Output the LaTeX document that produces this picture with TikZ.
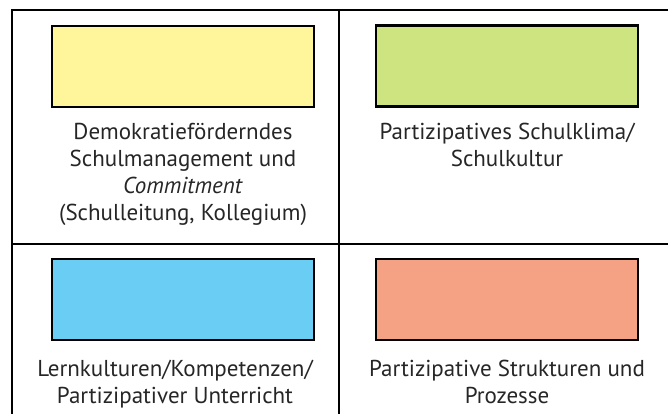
\documentclass[tikz,border=0pt]{standalone}
\usepackage{fontspec}
\setmainfont{PT Sans}
\begin{document}
\begin{tikzpicture}[x=1pt,y=-1pt,
  gridline/.style={line width=1.8pt,black},
  colorbox/.style={draw=black,line width=2.2pt,minimum width=262pt,minimum height=81pt,inner sep=0pt},
  caption/.style={align=center,anchor=base,inner sep=0pt,font=\fontsize{23}{26.7}\selectfont,text=black!85}
]
\definecolor{boxyellow}{RGB}{255,245,155}
\definecolor{boxgreen}{RGB}{205,228,128}
\definecolor{boxblue}{RGB}{106,206,244}
\definecolor{boxsalmon}{RGB}{245,161,131}
\useasboundingbox (0,0) rectangle (668,414);

% table rules (open on the right and at the bottom)
\draw[gridline] (12,414) -- (12,10) -- (668,10);
\draw[gridline] (339,10) -- (339,414);
\draw[gridline] (12,244) -- (668,244);

% coloured fields
\node[colorbox,fill=boxyellow] (yellow) at (183,66.5) {};
\node[colorbox,fill=boxgreen]  (green)  at (507,66)   {};
\node[colorbox,fill=boxblue]   (blue)   at (183,299.5) {};
\node[colorbox,fill=boxsalmon] (salmon) at (507,299.5) {};

% captions (anchored at the baseline of their last line)
\node[caption] (tyellow) at (183,220) {Demokratieförderndes\\Schulmanagement und\\\textit{Commitment}\\(Schulleitung, Kollegium)};
\node[caption] (tgreen) at (507,166.5) {Partizipatives Schulklima/\\Schulkultur};
\node[caption] (tblue) at (175,403) {Lernkulturen/Kompetenzen/\\Partizipativer Unterricht};
\node[caption] (tsalmon) at (507,403) {Partizipative Strukturen und\\Prozesse};
\end{tikzpicture}
\end{document}
